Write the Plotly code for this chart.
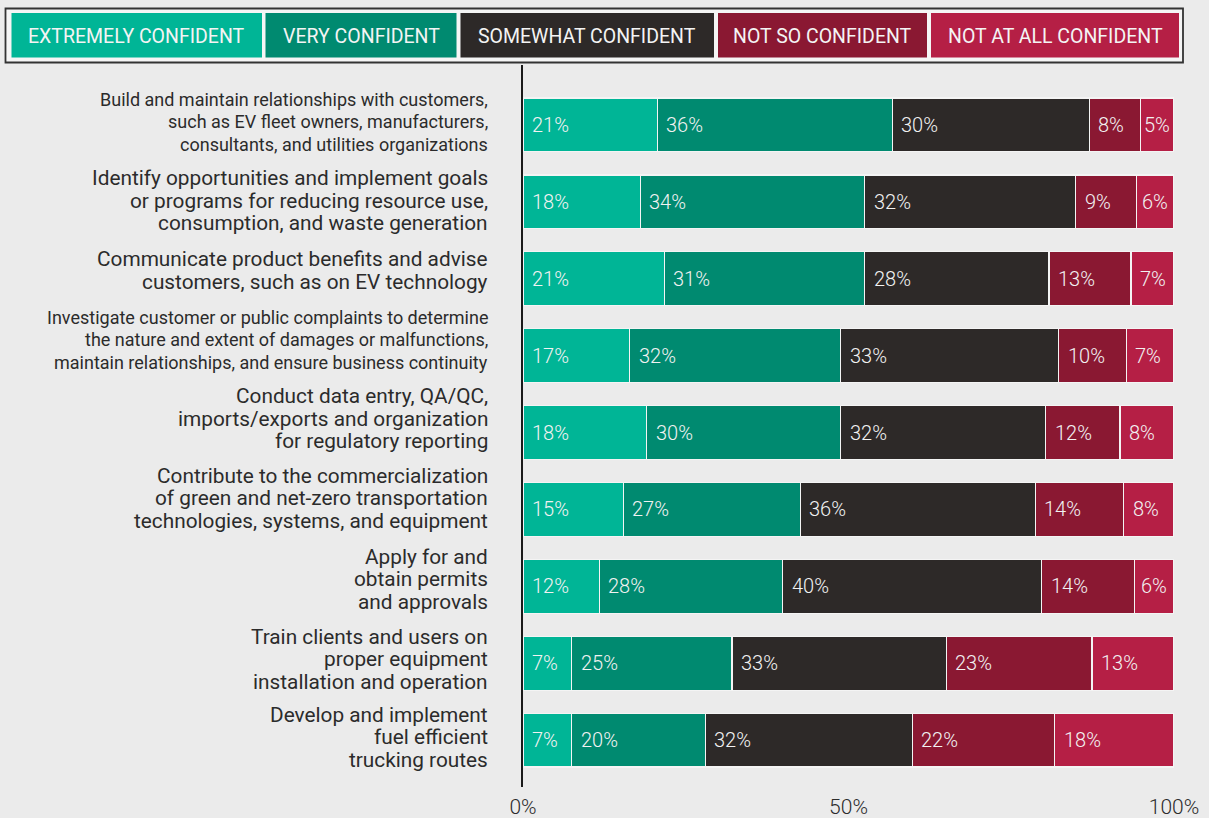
import plotly.graph_objects as go

# ---------------- data ----------------
tasks = [
    "Build and maintain relationships with customers,<br>such as EV fleet owners, manufacturers,<br>consultants, and utilities organizations",
    "Identify opportunities and implement goals<br>or programs for reducing resource use,<br>consumption, and waste generation",
    "Communicate product benefits and advise<br>customers, such as on EV technology",
    "Investigate customer or public complaints to determine<br>the nature and extent of damages or malfunctions,<br>maintain relationships, and ensure business continuity",
    "Conduct data entry, QA/QC,<br>imports/exports and organization<br>for regulatory reporting",
    "Contribute to the commercialization<br>of green and net-zero transportation<br>technologies, systems, and equipment",
    "Apply for and<br>obtain permits<br>and approvals",
    "Train clients and users on<br>proper equipment<br>installation and operation",
    "Develop and implement<br>fuel efficient<br>trucking routes",
]

series_names = ["EXTREMELY CONFIDENT", "VERY CONFIDENT", "SOMEWHAT CONFIDENT",
                "NOT SO CONFIDENT", "NOT AT ALL CONFIDENT"]

# bar lengths (share of respondents)
extremely  = [20.6, 18.0, 21.7, 16.4, 19.0, 15.4, 11.7, 7.5, 7.5]
very       = [36.1, 34.5, 30.8, 32.4, 29.8, 27.2, 28.2, 24.6, 20.5]
somewhat   = [30.3, 32.4, 28.3, 33.5, 31.5, 36.1, 39.8, 32.9, 31.8]
not_so     = [7.8, 9.4, 12.6, 10.4, 11.4, 13.6, 14.2, 22.4, 21.9]
not_at_all = [5.2, 5.7, 6.6, 7.3, 8.3, 7.7, 6.1, 12.6, 18.3]

# printed labels (rounded)
extremely_lbl  = [21, 18, 21, 17, 18, 15, 12, 7, 7]
very_lbl       = [36, 34, 31, 32, 30, 27, 28, 25, 20]
somewhat_lbl   = [30, 32, 28, 33, 32, 36, 40, 33, 32]
not_so_lbl     = [8, 9, 13, 10, 12, 14, 14, 23, 22]
not_at_all_lbl = [5, 6, 7, 7, 8, 8, 6, 13, 18]

x_tickvals = [0, 50, 100]
x_ticktext = ["0%", "50%", "100%"]

values = [extremely, very, somewhat, not_so, not_at_all]
labels = [extremely_lbl, very_lbl, somewhat_lbl, not_so_lbl, not_at_all_lbl]

# ---------------- styling / layout ----------------
colors = ["#00B596", "#008A70", "#2D2928", "#8A1832", "#B51F45"]
label_sizes = [18, 20.8, 20.8, 18, 20.8, 20.8, 20.8, 20.8, 20.8]
label_dy = [-3, -1, -8.5, -16, -14, -11, -7, -4, -3]   # px offset of label block
LINE_H = 22.5

W, H = 1209, 818
L, R, T, B = 523, 35, 65, 31
PW, PH = W - L - R, H - T - B
FONT = "Roboto"
BG = "#EBEBEB"
TXT = "#2B2B2B"


def px_x(px):
    return (px - L) / PW


def px_y(py):
    return (H - B - py) / PH


ypos = list(range(len(tasks)))

fig = go.Figure()
for name, col, vals in zip(series_names, colors, values):
    fig.add_trace(go.Bar(
        y=ypos, x=vals, orientation="h", name=name,
        marker=dict(color=col, line=dict(color="#F4F4F4", width=1.2)),
        width=0.70, hoverinfo="skip",
    ))

fig.update_layout(
    barmode="stack",
    width=W, height=H,
    margin=dict(l=L, r=R, t=T, b=B, pad=0),
    paper_bgcolor=BG, plot_bgcolor=BG,
    showlegend=False,
    font=dict(family=FONT, color=TXT),
    xaxis=dict(range=[0, 100], tickvals=x_tickvals, ticktext=x_ticktext,
               showgrid=False, zeroline=False, showline=False, automargin=False,
               ticks="", ticklabelstandoff=5,
               tickfont=dict(family=FONT, size=21, color=TXT, weight=300),
               fixedrange=True),
    yaxis=dict(range=[len(tasks) - 1 + 0.61, -0.78], showticklabels=False,
               showgrid=False, zeroline=False, showline=True, automargin=False,
               linecolor="#1A1A1A", linewidth=1.6, ticks=""),
)

annotations = []

# category labels, one annotation per line
for i, (t, s, dy) in enumerate(zip(tasks, label_sizes, label_dy)):
    lines = t.split("<br>")
    n = len(lines)
    for k, line in enumerate(lines):
        off = dy + (k - (n - 1) / 2) * LINE_H
        annotations.append(dict(
            x=px_x(490), xref="paper", y=i, yref="y", yshift=-off, text=line,
            xanchor="right", yanchor="middle", align="right", showarrow=False,
            font=dict(family=FONT, size=s, color=TXT),
        ))

# value labels inside the segments
for i in ypos:
    start = 0.0
    for vals, lbls in zip(values, labels):
        v = vals[i]
        w_px = v / 100 * PW
        pad = min(7, max(1, (w_px - 30) / 2))
        annotations.append(dict(
            x=start, xref="x", y=i, yref="y", text=f"{lbls[i]}%",
            xanchor="left", yanchor="middle", xshift=pad, showarrow=False,
            font=dict(family=FONT, size=20, color="#F2F2F2", weight=300),
        ))
        start += v

# custom legend strip
shapes = [dict(type="rect", xref="paper", yref="paper",
               x0=px_x(5.5), x1=px_x(1183), y0=px_y(62.5), y1=px_y(8.5),
               fillcolor="#F5F5F5", line=dict(color="#333333", width=1.8), layer="above")]
legend_px = [(11.5, 262), (265.5, 456.5), (460.5, 714), (718, 927), (931, 1179)]
for (a, b), name, col in zip(legend_px, series_names, colors):
    shapes.append(dict(type="rect", xref="paper", yref="paper",
                       x0=px_x(a), x1=px_x(b), y0=px_y(57.5), y1=px_y(13),
                       fillcolor=col, line=dict(width=0), layer="above"))
    annotations.append(dict(
        x=px_x((a + b) / 2), xref="paper", y=px_y(36), yref="paper",
        text=name, showarrow=False, xanchor="center", yanchor="middle",
        font=dict(family=FONT, size=19.5, color="#F4F4F4"),
    ))

fig.update_layout(annotations=annotations, shapes=shapes)

fig.write_html("out.html")
